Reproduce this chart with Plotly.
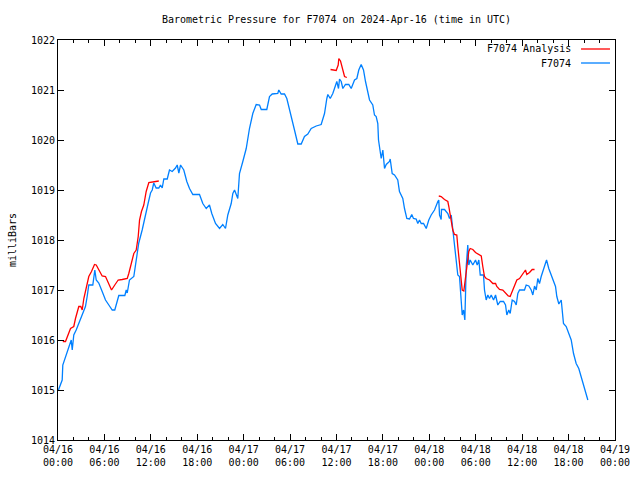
import pandas as pd
import plotly.graph_objects as go

BASE = "2024-04-16 00:00"

# Hours since 2024-04-16 00:00 UTC and pressure (mb) for station series F7074
obs_hours = [0.06, 0.54, 0.62, 0.97, 1.32, 1.71, 1.84, 2.04, 2.35, 2.78, 3.13, 3.55, 3.77, 3.98, 4.50, 4.76, 4.94, 5.27, 5.71, 6.14,
             6.57, 7.01, 7.34, 7.86, 8.64, 8.82, 8.95, 9.24, 9.80, 10.02, 10.44, 10.88, 11.31, 11.66, 11.96, 12.18, 12.38, 12.69, 13.03, 13.25,
             13.47, 13.68, 14.12, 14.41, 14.76, 15.19, 15.41, 15.62, 15.84, 16.26, 16.65, 17.00, 17.43, 18.29, 18.72, 19.16, 19.58, 19.88, 20.36, 20.88,
             21.30, 21.65, 21.95, 22.39, 22.60, 22.82, 23.24, 23.46, 23.89, 24.33, 24.75, 25.18, 25.62, 26.05, 26.27, 26.99, 27.34, 27.69, 28.41, 28.54,
             28.85, 29.28, 29.58, 29.92, 30.27, 30.57, 31.00, 31.44, 31.86, 32.29, 32.73, 33.38, 34.02, 34.45, 34.75, 34.88, 35.19, 35.52, 35.74, 36.04,
             36.26, 36.39, 36.61, 36.82, 37.16, 37.59, 37.90, 38.33, 38.63, 38.88, 39.19, 39.49, 39.75, 40.05, 40.27, 40.69, 40.91, 41.13, 41.34, 41.43,
             41.65, 41.78, 41.99, 42.21, 42.43, 42.85, 42.94, 43.20, 43.50, 43.92, 44.14, 44.57, 44.79, 45.09, 45.44, 45.73, 45.95, 46.30, 46.51, 46.73,
             46.95, 47.25, 47.60, 47.93, 48.24, 48.67, 49.10, 49.22, 49.32, 49.53, 49.57, 49.96, 50.39, 50.61, 50.83, 51.03, 51.25, 51.47, 51.68, 51.90,
             52.07, 52.25, 52.42, 52.59, 52.77, 52.97, 53.10, 53.28, 53.62, 53.97, 54.19, 54.40, 54.58, 55.00, 55.13, 55.35, 55.56, 55.78, 56.00, 56.30,
             56.56, 56.85, 57.16, 57.59, 57.85, 58.02, 58.27, 58.45, 58.71, 59.01, 59.23, 59.44, 59.66, 60.30, 60.52, 60.86, 61.17, 61.38, 61.60, 61.82,
             62.02, 62.24, 62.46, 62.67, 62.89, 63.15, 63.44, 63.75, 64.05, 64.31, 64.48, 64.74, 65.05, 65.18, 65.34, 65.69, 66.03, 66.34, 66.64, 66.98,
             67.32, 67.63, 67.93, 68.19, 68.49]
obs_mb = [1015.00, 1015.20, 1015.50, 1015.67, 1015.80, 1016.00, 1015.80, 1016.10, 1016.20, 1016.37, 1016.50, 1016.67, 1016.87, 1017.10, 1017.10, 1017.40, 1017.20, 1017.14, 1016.97, 1016.80,
          1016.70, 1016.60, 1016.60, 1016.89, 1016.89, 1017.00, 1016.94, 1017.20, 1017.27, 1017.54, 1017.94, 1018.20, 1018.54, 1018.74, 1018.94, 1019.00, 1019.14, 1019.04, 1019.04, 1019.10,
          1019.04, 1019.22, 1019.22, 1019.40, 1019.37, 1019.44, 1019.50, 1019.34, 1019.50, 1019.40, 1019.17, 1019.03, 1018.91, 1018.91, 1018.73, 1018.63, 1018.70, 1018.53, 1018.33, 1018.23,
          1018.31, 1018.23, 1018.50, 1018.73, 1018.93, 1019.00, 1018.83, 1019.33, 1019.57, 1019.83, 1020.23, 1020.53, 1020.71, 1020.70, 1020.61, 1020.61, 1020.87, 1020.92, 1020.93, 1021.00,
          1020.92, 1020.92, 1020.83, 1020.63, 1020.43, 1020.20, 1019.92, 1019.92, 1020.07, 1020.12, 1020.23, 1020.28, 1020.31, 1020.53, 1020.83, 1020.91, 1020.83, 1020.93, 1021.03, 1021.17,
          1021.03, 1021.22, 1021.17, 1021.03, 1021.11, 1021.11, 1021.03, 1021.20, 1021.23, 1021.40, 1021.51, 1021.40, 1021.17, 1020.97, 1020.80, 1020.70, 1020.50, 1020.47, 1020.33, 1020.00,
          1019.77, 1019.63, 1019.80, 1019.43, 1019.51, 1019.57, 1019.62, 1019.33, 1019.30, 1019.20, 1018.97, 1018.83, 1018.63, 1018.43, 1018.42, 1018.51, 1018.43, 1018.42, 1018.33, 1018.40,
          1018.33, 1018.33, 1018.23, 1018.40, 1018.50, 1018.60, 1018.77, 1018.80, 1018.50, 1018.41, 1018.61, 1018.61, 1018.53, 1018.43, 1018.50, 1018.20, 1017.97, 1017.60, 1017.30, 1017.27,
          1016.80, 1016.50, 1016.60, 1016.40, 1017.47, 1017.90, 1017.50, 1017.60, 1017.50, 1017.60, 1017.50, 1017.60, 1017.30, 1017.30, 1017.00, 1016.80, 1016.90, 1016.83, 1016.90, 1016.80,
          1016.90, 1016.70, 1016.77, 1016.77, 1016.70, 1016.50, 1016.60, 1016.53, 1016.80, 1016.77, 1016.70, 1016.93, 1017.00, 1017.00, 1017.10, 1017.08, 1017.00, 1016.90, 1017.08, 1017.00,
          1017.23, 1017.13, 1017.27, 1017.37, 1017.47, 1017.60, 1017.43, 1017.30, 1017.20, 1017.07, 1016.87, 1016.72, 1016.80, 1016.53, 1016.33, 1016.27, 1016.13, 1016.00, 1015.73, 1015.53,
          1015.43, 1015.27, 1015.10, 1014.93, 1014.80]

# Analysis series, three separate segments
ana1_hours = [0.62, 0.97, 1.62, 2.04, 2.26, 2.69, 2.95, 3.13, 3.34, 3.77, 3.98, 4.33, 4.72, 4.94, 5.27, 5.71, 6.14, 6.49, 6.92, 7.34,
              7.78, 8.30, 8.95, 9.15, 9.50, 9.80, 10.11, 10.37, 10.54, 10.79, 11.09, 11.40, 11.74, 12.38, 13.03]
ana1_mb = [1015.97, 1015.97, 1016.23, 1016.27, 1016.43, 1016.67, 1016.67, 1016.60, 1016.83, 1017.17, 1017.27, 1017.37, 1017.51, 1017.50, 1017.40, 1017.28, 1017.27, 1017.13, 1017.00, 1017.10,
           1017.20, 1017.21, 1017.23, 1017.33, 1017.53, 1017.73, 1017.80, 1018.07, 1018.40, 1018.57, 1018.70, 1018.97, 1019.15, 1019.17, 1019.18]
ana2_hours = [35.23, 35.52, 35.96, 36.22, 36.30, 36.52, 36.69, 36.82, 37.04, 37.33]
ana2_mb = [1021.41, 1021.40, 1021.39, 1021.50, 1021.63, 1021.58, 1021.47, 1021.40, 1021.27, 1021.25]
ana3_hours = [49.22, 49.53, 49.96, 50.39, 50.52, 50.83, 51.03, 51.25, 51.55, 51.68, 51.90, 52.12, 52.25, 52.46, 52.64, 52.77, 52.90, 53.10, 53.28, 53.62,
              53.97, 54.40, 54.71, 54.91, 55.13, 55.35, 55.78, 56.21, 56.56, 56.72, 57.07, 57.50, 57.85, 58.20, 58.45, 58.71, 59.01, 59.31, 59.66, 60.08,
              60.43, 60.60, 60.95, 61.30, 61.60]
ana3_mb = [1018.88, 1018.87, 1018.81, 1018.77, 1018.67, 1018.40, 1018.20, 1018.11, 1018.10, 1017.87, 1017.57, 1017.27, 1017.00, 1016.98, 1017.20, 1017.30, 1017.50, 1017.77, 1017.83, 1017.81,
           1017.75, 1017.70, 1017.68, 1017.47, 1017.27, 1017.23, 1017.20, 1017.13, 1017.13, 1017.07, 1017.01, 1017.00, 1016.93, 1016.88, 1016.87, 1016.97, 1017.10, 1017.20, 1017.23, 1017.31,
           1017.40, 1017.31, 1017.35, 1017.41, 1017.41]

TITLE = "Barometric Pressure for F7074 on 2024-Apr-16 (time in UTC)"
Y_LABEL = "milliBars"
NAMES = ["F7074 Analysis", "F7074"]
COLORS = ["#ff0000", "#0080ff"]

base = pd.Timestamp(BASE)


def to_times(hours):
    return list(base + pd.to_timedelta(hours, unit="h"))


ana_x, ana_y = [], []
for hs, vs in [(ana1_hours, ana1_mb), (ana2_hours, ana2_mb), (ana3_hours, ana3_mb)]:
    if ana_x:
        ana_x.append(None)
        ana_y.append(None)
    ana_x += to_times(hs)
    ana_y += vs

FONT = "DejaVu Sans Mono"

fig = go.Figure()
fig.add_trace(go.Scatter(x=to_times(obs_hours), y=obs_mb, mode="lines", name=NAMES[1],
                         line=dict(color=COLORS[1], width=1.3), showlegend=False))
fig.add_trace(go.Scatter(x=ana_x, y=ana_y, mode="lines", name=NAMES[0], connectgaps=False,
                         line=dict(color=COLORS[0], width=1.3), showlegend=False))

fig.update_layout(
    width=640, height=480,
    margin=dict(l=58, r=25, t=40, b=40, autoexpand=False),
    paper_bgcolor="white", plot_bgcolor="white",
    font=dict(family=FONT, size=10, color="black"),
    title=dict(text=TITLE, xref="paper", x=0.5, xanchor="center", y=0.96, yanchor="middle",
               font=dict(family=FONT, size=10, color="black")),
    xaxis=dict(
        type="date", automargin=False,
        range=[base, base + pd.Timedelta(hours=72)],
        tickmode="linear", tick0=base, dtick=6 * 3600 * 1000,
        tickformat="%m/%d<br>%H:%M",
        ticks="inside", ticklen=6, tickcolor="black",
        minor=dict(ticks="inside", dtick=2 * 3600 * 1000, ticklen=3, tickcolor="black", showgrid=False),
        showline=True, linecolor="black", linewidth=1, mirror="ticks",
        showgrid=False, zeroline=False,
        tickfont=dict(family=FONT, size=10),
    ),
    yaxis=dict(
        automargin=False,
        range=[1014, 1022], dtick=1, tick0=1014,
        ticks="inside", ticklen=6, tickcolor="black",
        showline=True, linecolor="black", linewidth=1, mirror="ticks",
        showgrid=False, zeroline=False,
        title=dict(text=Y_LABEL, font=dict(family=FONT, size=10), standoff=12),
        tickfont=dict(family=FONT, size=10),
    ),
)

# gnuplot-style legend: right-aligned text with line sample to its right
rows = [(NAMES[0], COLORS[0], 0.9775), (NAMES[1], COLORS[1], 0.9425)]
for name, color, yy in rows:
    fig.add_annotation(x=0.924, y=yy, xref="paper", yref="paper", text=name, showarrow=False,
                       xanchor="right", yanchor="middle", font=dict(family=FONT, size=10, color="black"))
    fig.add_shape(type="line", xref="paper", yref="paper", x0=0.939, x1=0.991, y0=yy, y1=yy,
                  line=dict(color=color, width=1.3))

fig.write_html("out.html", config={"displayModeBar": False},
               post_script="document.body.style.margin='0';")
